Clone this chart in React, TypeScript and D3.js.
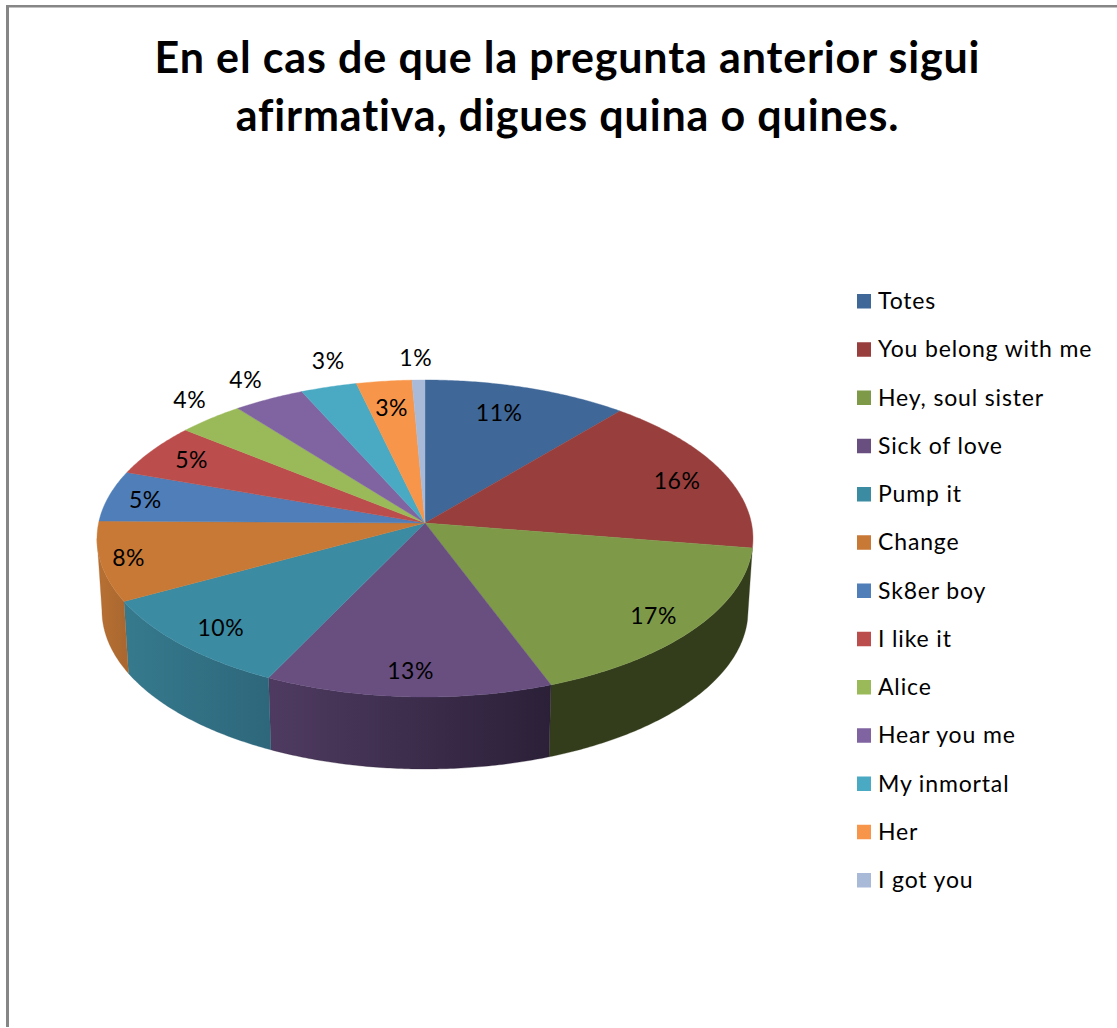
import React from "react";
import * as d3 from "d3";

const W = 1117, H = 1028;

const titleLines = ["En el cas de que la pregunta anterior sigui", "afirmativa, digues quina o quines."];
const categories = ["Totes","You belong with me","Hey, soul sister","Sick of love","Pump it","Change","Sk8er boy","I like it","Alice","Hear you me","My inmortal","Her","I got you"];
const values = [11.1,16.4,16.8,12.9,9.9,8.1,5.2,5.4,3.6,3.85,3.05,3.0,0.7];
const topColors = ["#3F6797","#983F3D","#7E9A48","#684F80","#3B8BA2","#C87936","#4F7EB8","#BB4E4C","#9ABA59","#8064A1","#4AA9C3","#F7964A","#A9BAD9"];
const wallLeft = ["#2F4D71","#72302E","#333D1C","#4F3B61","#367A8D","#B87033","#3B5E8A","#8C3A39","#738B43","#604B78","#377F92","#B97038","#7F8BA2"];
const wallRight = ["#2F4D71","#72302E","#333D1C","#2B2038","#2E677C","#AA6830","#3B5E8A","#8C3A39","#738B43","#604B78","#377F92","#B97038","#7F8BA2"];
const labelRadius = [0.8,0.8,0.76,0.86,0.74,0.9,0.88,0.86,1.12,1.12,1.12,0.8,1.12];
const labelDx = [-9,14,27,0,-28,-5,-1,2,3,-6,10,0,-2];
const labelDy = [0,1,14,1,16,0,1,0,-7,-6,-11,0,-7];

// perspective projection of the pie disc
const cx = 425, cy = 523, a = 326.4, b = 157, k = -0.0978;
const depth = 72, bottomScale = 0.985;
function project(theta: number, r = 1): [number, number] {
  const u = r * Math.sin(theta), v = -r * Math.cos(theta);
  const w = 1 + k * v;
  return [cx + (a * u) / w, cy + (b * v) / w];
}
function projectBottom(theta: number): [number, number] {
  const [x, y] = project(theta);
  return [cx + (x - cx) * bottomScale, y + depth];
}

const arcs = d3.pie<number>().sort(null).value((d) => d)(values);
const line = d3.line();
const VIS0 = (99 * Math.PI) / 180, VIS1 = (264.4 * Math.PI) / 180;

function samples(t0: number, t1: number): number[] {
  const n = Math.max(2, Math.ceil((t1 - t0) / 0.01));
  return d3.range(n + 1).map((i) => t0 + ((t1 - t0) * i) / n);
}

export default function App() {
  return (
    <svg width={W} height={H} viewBox={`0 0 ${W} ${H}`} style={{ position: "absolute", left: 0, top: 0, display: "block", background: "#fff" }} fontFamily="Lato, 'Noto Sans', sans-serif">
      <defs>
        {arcs.map((d, i) => {
          const t0 = Math.max(d.startAngle, VIS0), t1 = Math.min(d.endAngle, VIS1);
          if (t1 <= t0) return null;
          const x0 = project(t0)[0], x1 = project(t1)[0];
          return (
            <linearGradient key={i} id={`wall${i}`} gradientUnits="userSpaceOnUse" x1={Math.min(x0, x1)} x2={Math.max(x0, x1)} y1={0} y2={0}>
              <stop offset="0" stopColor={wallLeft[i]} />
              <stop offset="1" stopColor={wallRight[i]} />
            </linearGradient>
          );
        })}
      </defs>
      <rect x={6} y={5} width={W - 6} height={2.5} fill="#868686" />
      <rect x={6} y={5} width={3} height={H - 6} fill="#868686" />

      {titleLines.map((t, i) => (
        <text key={t} x={567.5} y={73 + i * 58} textAnchor="middle" fontSize={43} fontWeight={700} letterSpacing={0.85} fill="#000">{t}</text>
      ))}

      {arcs.map((d, i) => {
        const t0 = Math.max(d.startAngle, VIS0), t1 = Math.min(d.endAngle, VIS1);
        if (t1 <= t0) return null;
        const ts = samples(t0, t1);
        const pts = [...ts.map((t) => project(t)), ...ts.slice().reverse().map((t) => projectBottom(t))];
        return <path key={i} d={line(pts) + "Z"} fill={`url(#wall${i})`} stroke={wallRight[i]} strokeWidth={0.3} />;
      })}

      {arcs.map((d, i) => {
        const pts: [number, number][] = [[cx, cy], ...samples(d.startAngle, d.endAngle).map((t) => project(t))];
        return <path key={i} d={line(pts) + "Z"} fill={topColors[i]} stroke={topColors[i]} strokeWidth={0.4} />;
      })}

      {arcs.map((d, i) => {
        const [x, y] = project((d.startAngle + d.endAngle) / 2, labelRadius[i]);
        return (
          <text key={i} x={x + labelDx[i]} y={y + labelDy[i]} dy="0.35em" textAnchor="middle" fontSize={23} letterSpacing={0.5} fill="#000">{d3.format(".0f")(values[i])}%</text>
        );
      })}

      {categories.map((c, i) => {
        const y = d3.scaleLinear().domain([0, 12]).range([301, 880])(i);
        return (
          <g key={c}>
            <rect x={857} y={y - 7} width={14} height={14.5} fill={topColors[i]} />
            <text x={878} y={y} dy="0.35em" fontSize={23} letterSpacing={0.85} fill="#000">{c}</text>
          </g>
        );
      })}
    </svg>
  );
}
